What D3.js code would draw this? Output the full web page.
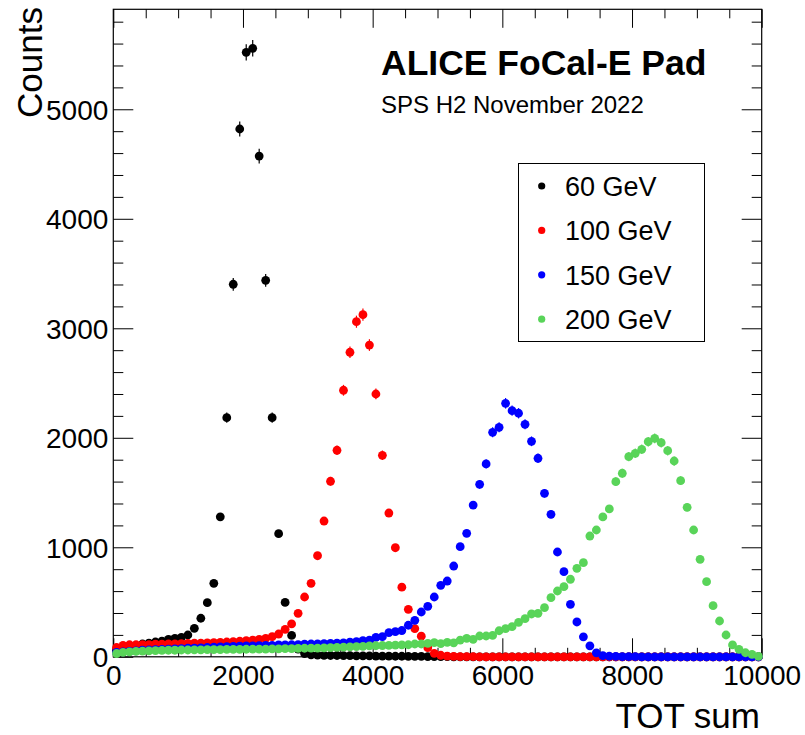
<!DOCTYPE html>
<html>
<head>
<meta charset="utf-8">
<script src="https://cdn.jsdelivr.net/npm/d3@7"></script>
<style>
  html, body { margin: 0; padding: 0; background: #fff; }
  svg { display: block; font-family: "Liberation Sans", Arial, Helvetica, sans-serif; }
</style>
</head>
<body>
<svg id="chart" width="805" height="735"></svg>
<script>
// ---- Data (bin centres 50 .. 9950, width 100) ----
const binCenters = d3.range(50, 10000, 100);

const seriesNames = ["60 GeV", "100 GeV", "150 GeV", "200 GeV"];
const seriesColors = ["#000000", "#ff0000", "#0000ff", "#59d459"];

const counts60 = [
  60, 75, 90, 105, 117, 125, 135, 144, 160, 169,
  178, 199, 260, 352, 494, 671, 1278, 2184, 3402, 4820,
  5520, 5557, 4573, 3438, 2184, 1124, 497, 195, 70, 30,
  18, 15, 14, 12, 12, 10, 10, 9, 8, 8,
  7, 6, 6, 5, 5, 4, 3, 3, 2, 2,
  1, 1, 0, 0, 0, 0, 0, 0, 0, 0,
  0, 0, 0, 0, 0, 0, 0, 0, 0, 0,
  0, 0, 0, 0, 0, 0, 0, 0, 0, 0,
  0, 0, 0, 0, 0, 0, 0, 0, 0, 0,
  0, 0, 0, 0, 0, 0, 0, 0, 0, 0
];

const counts100 = [
  85, 105, 110, 110, 112, 112, 115, 115, 118, 118,
  120, 122, 125, 125, 128, 130, 132, 135, 138, 142,
  148, 153, 160, 169, 184, 208, 251, 300, 397, 546,
  671, 923, 1240, 1603, 1886, 2434, 2781, 3060, 3124, 2847,
  2400, 1840, 1313, 996, 636, 434, 258, 188, 83, 32,
  14, 7, 4, 2, 1, 1, 0, 0, 0, 0,
  0, 0, 0, 0, 0, 0, 0, 0, 0, 0,
  0, 0, 0, 0, 0, 0, 0, 0, 0, 0,
  0, 0, 0, 0, 0, 0, 0, 0, 0, 0,
  0, 0, 0, 0, 0, 0, 0, 0, 0, 0
];

const counts150 = [
  40, 45, 50, 55, 60, 62, 65, 68, 70, 72,
  75, 78, 80, 82, 85, 88, 90, 92, 95, 98,
  100, 100, 102, 105, 105, 108, 108, 110, 112, 115,
  117, 118, 120, 122, 125, 128, 133, 138, 147, 153,
  178, 184, 220, 229, 240, 288, 333, 409, 461, 546,
  653, 692, 829, 1006, 1128, 1386, 1575, 1761, 2050, 2096,
  2315, 2248, 2224, 2123, 1968, 1813, 1493, 1301, 957, 777,
  479, 318, 182, 100, 36, 10, 5, 3, 2, 1,
  1, 0, 0, 0, 0, 0, 0, 0, 0, 0,
  0, 0, 0, 0, 0, 0, 0, 0, 0, 0
];

const counts200 = [
  30, 40, 45, 50, 52, 55, 57, 58, 60, 60,
  62, 62, 63, 64, 65, 65, 66, 67, 68, 68,
  69, 70, 70, 71, 72, 73, 74, 75, 77, 78,
  80, 80, 82, 84, 86, 88, 90, 93, 96, 99,
  101, 103, 105, 107, 108, 110, 117, 117, 123, 129,
  120, 132, 128, 153, 169, 160, 190, 190, 195, 238,
  257, 275, 315, 348, 391, 397, 449, 540, 601, 640,
  708, 808, 860, 1103, 1158, 1277, 1350, 1599, 1676, 1828,
  1858, 1895, 1964, 1995, 1955, 1882, 1788, 1608, 1365, 1158,
  890, 686, 467, 327, 199, 108, 68, 37, 23, 3
];

const allCounts = [counts60, counts100, counts150, counts200];

const xMajorTicks = [0, 2000, 4000, 6000, 8000, 10000];
const yMajorTicks = [0, 1000, 2000, 3000, 4000, 5000];

const titleText = "ALICE FoCal-E Pad";
const subtitleText = "SPS H2 November 2022";
const xTitle = "TOT sum";
const yTitle = "Counts";

// ---- Layout ----
const frame = { left: 113.3, right: 761.7, top: 9.3, bottom: 656.8 };
const svg = d3.select("#chart");

const x = d3.scaleLinear().domain([0, 10000]).range([frame.left, frame.right]);
const y = d3.scaleLinear().domain([0, 5913]).range([frame.bottom, frame.top]);

const xMinor = d3.range(0, 10001, 500).filter(v => v % 2000 !== 0);
const yMinor = d3.range(0, 5901, 200).filter(v => v % 1000 !== 0);

function styleAxis(g) {
  g.select(".domain").remove();
  g.selectAll(".tick line").attr("stroke", "#000").attr("stroke-width", 1);
}

// bottom major with labels
svg.append("g")
  .attr("transform", `translate(0,${frame.bottom})`)
  .call(d3.axisBottom(x).tickValues(xMajorTicks).tickSize(-18.5).tickPadding(8).tickFormat(d3.format("d")))
  .call(styleAxis)
  .call(g => g.selectAll("text").attr("font-size", 28).attr("fill", "#000")
      .attr("font-family", "Liberation Sans, Arial, sans-serif"));
svg.append("g")
  .attr("transform", `translate(0,${frame.bottom})`)
  .call(d3.axisBottom(x).tickValues(xMinor).tickSize(-9).tickFormat(""))
  .call(styleAxis);
// top
svg.append("g")
  .attr("transform", `translate(0,${frame.top})`)
  .call(d3.axisTop(x).tickValues(xMajorTicks).tickSize(-18.5).tickFormat(""))
  .call(styleAxis);
svg.append("g")
  .attr("transform", `translate(0,${frame.top})`)
  .call(d3.axisTop(x).tickValues(xMinor).tickSize(-9).tickFormat(""))
  .call(styleAxis);
// left
svg.append("g")
  .attr("transform", `translate(${frame.left},0)`)
  .call(d3.axisLeft(y).tickValues(yMajorTicks).tickSize(-20).tickPadding(5).tickFormat(d3.format("d")))
  .call(styleAxis)
  .call(g => g.selectAll("text").attr("font-size", 28).attr("fill", "#000").attr("dy", "0.36em")
      .attr("font-family", "Liberation Sans, Arial, sans-serif"));
svg.append("g")
  .attr("transform", `translate(${frame.left},0)`)
  .call(d3.axisLeft(y).tickValues(yMinor).tickSize(-10).tickFormat(""))
  .call(styleAxis);
// right
svg.append("g")
  .attr("transform", `translate(${frame.right},0)`)
  .call(d3.axisRight(y).tickValues(yMajorTicks).tickSize(-20).tickFormat(""))
  .call(styleAxis);
svg.append("g")
  .attr("transform", `translate(${frame.right},0)`)
  .call(d3.axisRight(y).tickValues(yMinor).tickSize(-10).tickFormat(""))
  .call(styleAxis);

// Frame
svg.append("rect")
  .attr("x", frame.left).attr("y", frame.top)
  .attr("width", frame.right - frame.left).attr("height", frame.bottom - frame.top)
  .attr("fill", "none").attr("stroke", "#000").attr("stroke-width", 1.2);

// Data markers with sqrt(N) error bars
const plot = svg.append("g");
allCounts.forEach((vals, si) => {
  const col = seriesColors[si];
  const g = plot.append("g");
  const pts = binCenters.map((c, i) => ({ c, v: vals[i] }));
  g.selectAll("line.err").data(pts).join("line")
    .attr("class", "err")
    .attr("x1", d => x(d.c)).attr("x2", d => x(d.c))
    .attr("y1", d => y(d.v + Math.sqrt(d.v)))
    .attr("y2", d => y(Math.max(0, d.v - Math.sqrt(d.v))))
    .attr("stroke", col).attr("stroke-width", 1.2);
  g.selectAll("circle").data(pts).join("circle")
    .attr("cx", d => x(d.c)).attr("cy", d => y(d.v))
    .attr("r", 4.4).attr("fill", col);
});

// Title texts
svg.append("text").attr("x", 381).attr("y", 75)
  .attr("font-size", 35.5).attr("font-weight", "bold").attr("fill", "#000")
  .text(titleText);
svg.append("text").attr("x", 381).attr("y", 113.3)
  .attr("font-size", 24).attr("fill", "#000")
  .text(subtitleText);

// Legend
const legend = svg.append("g");
legend.append("rect")
  .attr("x", 518.5).attr("y", 163.5).attr("width", 186).attr("height", 178)
  .attr("fill", "#fff").attr("stroke", "#000").attr("stroke-width", 1);
seriesNames.forEach((name, i) => {
  const cy = 186 + i * 44.4;
  legend.append("circle").attr("cx", 541.7).attr("cy", cy).attr("r", 3.6).attr("fill", seriesColors[i]);
  legend.append("text").attr("x", 565).attr("y", cy + 10)
    .attr("font-size", 27).attr("fill", "#000").text(name);
});

// Axis titles
svg.append("text").attr("x", 760).attr("y", 728)
  .attr("text-anchor", "end").attr("font-size", 35).attr("fill", "#000")
  .text(xTitle);
svg.append("text")
  .attr("transform", "translate(41.5,7) rotate(-90)")
  .attr("text-anchor", "end").attr("font-size", 35).attr("fill", "#000")
  .text(yTitle);
</script>
</body>
</html>
